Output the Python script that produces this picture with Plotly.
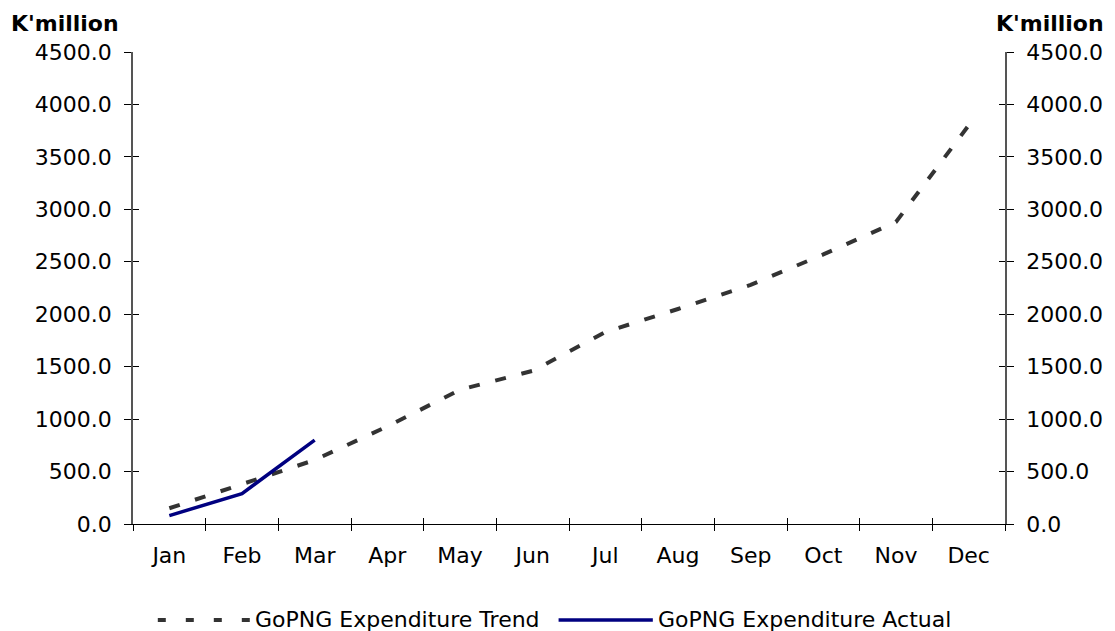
import plotly.graph_objects as go

# Monthly figures, K'million
months = ["Jan", "Feb", "Mar", "Apr", "May", "Jun",
          "Jul", "Aug", "Sep", "Oct", "Nov", "Dec"]
trend = [150, 380, 610, 930, 1280, 1460, 1830, 2050, 2280, 2570, 2880, 3800]
actual = [80, 290, 800]
actual_months = months[:len(actual)]

y_ticks = [0, 500, 1000, 1500, 2000, 2500, 3000, 3500, 4000, 4500]
y_range = [0, 4500]

FONT = "DejaVu Sans, Liberation Sans, Arial, sans-serif"
TREND_COLOR = "#333333"
ACTUAL_COLOR = "#000080"

W, H = 1115, 631
ML, MR, MT, MB = 133, 103, 52, 107
PW, PH = W - ML - MR, H - MT - MB


def px(xp):
    """page pixel x -> paper fraction"""
    return (xp - ML) / PW


def py(yp):
    """page pixel y -> paper fraction"""
    return (H - MB - yp) / PH


fig = go.Figure()

fig.add_trace(go.Scatter(
    x=months, y=trend, mode="lines", name="GoPNG Expenditure Trend",
    line=dict(color=TREND_COLOR, width=4, dash="11px,16px"),
))
fig.add_trace(go.Scatter(
    x=actual_months, y=actual, mode="lines", name="GoPNG Expenditure Actual",
    line=dict(color=ACTUAL_COLOR, width=3.5),
))

axis_font = dict(family=FONT, size=22, color="#000000")

fig.update_layout(
    width=W, height=H,
    margin=dict(l=ML, r=MR, t=MT, b=MB),
    paper_bgcolor="white", plot_bgcolor="white",
    showlegend=False,
    font=dict(family=FONT, color="#000000"),
    xaxis=dict(
        type="category", categoryorder="array", categoryarray=months,
        range=[-0.5, 11.5], tickson="boundaries",
        ticks="outside", ticklen=6, tickcolor="#000000", tickwidth=1,
        showline=True, linecolor="#000000", linewidth=1,
        showgrid=False, zeroline=False,
        tickfont=axis_font, ticklabelstandoff=12,
    ),
    # upper half of the crossing category ticks
    xaxis2=dict(
        overlaying="x", range=[-0.5, 11.5], tick0=-0.5, dtick=1,
        ticks="inside", ticklen=6, tickcolor="#000000", tickwidth=1,
        showticklabels=False, showline=False, showgrid=False, zeroline=False,
        side="bottom",
    ),
    yaxis=dict(
        range=y_range, tickvals=y_ticks, tickformat=".1f",
        ticks="outside", ticklen=7, tickcolor="#000000", tickwidth=1,
        showline=True, linecolor="#555555", linewidth=1.5,
        showgrid=False, zeroline=False,
        tickfont=axis_font, ticklabelstandoff=8,
    ),
    yaxis2=dict(
        overlaying="y", side="right", range=y_range, tickvals=y_ticks,
        tickformat=".1f",
        ticks="outside", ticklen=7, tickcolor="#000000", tickwidth=1,
        showline=True, linecolor="#555555", linewidth=1.5,
        showgrid=False, zeroline=False,
        tickfont=axis_font, ticklabelstandoff=8,
    ),
    yaxis3=dict(
        overlaying="y", side="left", range=y_range, tickvals=y_ticks,
        ticks="inside", ticklen=6, tickcolor="#000000", tickwidth=1,
        showticklabels=False, showline=False, showgrid=False, zeroline=False,
    ),
    yaxis4=dict(
        overlaying="y", side="right", range=y_range, tickvals=y_ticks,
        ticks="inside", ticklen=6, tickcolor="#000000", tickwidth=1,
        showticklabels=False, showline=False, showgrid=False, zeroline=False,
    ),
)

# empty carriers so the overlay axes are drawn
fig.add_trace(go.Scatter(x=[None], y=[None], xaxis="x2", yaxis="y3",
                         showlegend=False, hoverinfo="skip"))
fig.add_trace(go.Scatter(x=[None], y=[None], xaxis="x", yaxis="y2",
                         showlegend=False, hoverinfo="skip"))
fig.add_trace(go.Scatter(x=[None], y=[None], xaxis="x", yaxis="y4",
                         showlegend=False, hoverinfo="skip"))

# unit captions above both value axes
unit_font = dict(family=FONT, size=22, color="#000000", weight="bold")
fig.add_annotation(text="K'million", xref="paper", yref="paper",
                   x=px(8), y=py(24), xanchor="left", yanchor="middle",
                   showarrow=False, font=unit_font)
fig.add_annotation(text="K'million", xref="paper", yref="paper",
                   x=px(1114), y=py(24), xanchor="right", yanchor="middle",
                   showarrow=False, font=unit_font)

# legend row under the chart
legend_font = dict(family=FONT, size=22, color="#000000")
LEG_Y = 619
fig.add_shape(type="line", xref="paper", yref="paper",
              x0=px(158), x1=px(251), y0=py(LEG_Y + 1), y1=py(LEG_Y + 1),
              line=dict(color=TREND_COLOR, width=4, dash="8px,20px"))
fig.add_annotation(text="GoPNG Expenditure Trend", xref="paper", yref="paper",
                   x=px(254), y=py(LEG_Y), xanchor="left", yanchor="middle",
                   showarrow=False, font=legend_font)
fig.add_shape(type="line", xref="paper", yref="paper",
              x0=px(562), x1=px(657), y0=py(LEG_Y + 1), y1=py(LEG_Y + 1),
              line=dict(color=ACTUAL_COLOR, width=3.5))
fig.add_annotation(text="GoPNG Expenditure Actual", xref="paper", yref="paper",
                   x=px(660), y=py(LEG_Y), xanchor="left", yanchor="middle",
                   showarrow=False, font=legend_font)

fig.write_html("out.html")
